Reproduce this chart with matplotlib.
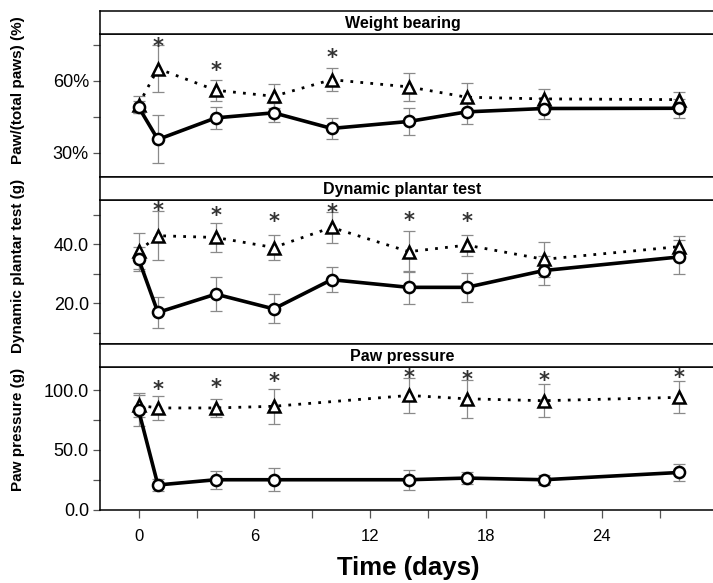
import numpy as np
import matplotlib
matplotlib.use("Agg")
import matplotlib.pyplot as plt
from matplotlib.ticker import FixedLocator, FuncFormatter

plt.rcParams['font.family'] = ['Liberation Sans', 'DejaVu Sans']

# ---- data ----
days = [0, 1, 4, 7, 10, 14, 17, 21, 28]
days_pp = [0, 1, 4, 7, 14, 17, 21, 28]   # paw pressure has no day 10

# Weight bearing (%)
wb_circle = [49.0, 35.5, 44.5, 46.6, 40.1, 43.0, 47.0, 48.4, 48.5]
wb_circle_err = [2.5, 10.0, 4.5, 4.0, 4.5, 5.5, 5.0, 4.3, 4.0]
wb_tri = [50.0, 65.0, 56.0, 53.5, 60.4, 57.4, 53.1, 52.4, 52.1]
wb_tri_err = [3.5, 9.8, 4.3, 5.0, 4.8, 5.7, 6.0, 4.0, 3.3]
wb_star_days = [1, 4, 10]
wb_star_y = [76.3, 66.5, 71.8]

# Dynamic plantar test (g)
dp_circle = [35.0, 16.9, 23.1, 18.1, 28.0, 25.4, 25.4, 31.1, 35.7]
dp_circle_err = [4.0, 5.2, 5.7, 4.9, 4.2, 5.6, 4.9, 5.0, 5.7]
dp_tri = [37.7, 42.9, 42.3, 38.9, 45.7, 37.5, 39.7, 34.9, 39.2]
dp_tri_err = [6.0, 8.3, 4.8, 4.2, 5.4, 6.9, 3.6, 6.0, 3.7]
dp_star_days = [1, 4, 7, 10, 14, 17]
dp_star_y = [53.1, 51.6, 49.6, 52.5, 49.9, 49.4]

# Paw pressure (g)
pp_circle = [83.3, 20.6, 25.0, 25.0, 25.0, 26.4, 25.0, 31.1]
pp_circle_err = [13.0, 5.0, 7.6, 9.5, 8.4, 5.2, 4.3, 7.5]
pp_tri = [87.5, 85.3, 85.3, 86.7, 95.8, 93.0, 91.4, 94.2]
pp_tri_err = [10.0, 9.7, 7.5, 14.5, 14.8, 16.0, 13.9, 13.4]
pp_star_days = [1, 4, 7, 14, 17, 21, 28]
pp_star_y = [105.6, 107.0, 111.7, 115.3, 113.9, 112.5, 115.3]

W, H = 713, 583
fig = plt.figure(figsize=(W / 100, H / 100), dpi=100)


def fx(px):
    return px / W


def fy(px):
    return 1 - px / H


LEFT, RIGHT = 100, 717.6

panels = [
    dict(title='Weight bearing', ylabel='Paw/(total paws) (%)', label_y=90,
         strip=(11, 34.3), plot=(34.3, 176.7), ylim=(20, 79.3),
         major=[30, 60], minor=[45, 75], fmt=lambda v, p: '%d%%' % v,
         x=days, c=wb_circle, ce=wb_circle_err, t=wb_tri, te=wb_tri_err,
         sd=wb_star_days, sy=wb_star_y),
    dict(title='Dynamic plantar test', ylabel='Dynamic plantar test (g)', label_y=266,
         strip=(176.7, 200), plot=(200, 344.3), ylim=(6.1, 55),
         major=[20, 40], minor=[10, 30, 50], fmt=lambda v, p: '%.1f' % v,
         x=days, c=dp_circle, ce=dp_circle_err, t=dp_tri, te=dp_tri_err,
         sd=dp_star_days, sy=dp_star_y),
    dict(title='Paw pressure', ylabel='Paw pressure (g)', label_y=429,
         strip=(344.3, 367), plot=(367, 509.5), ylim=(0, 119.7),
         major=[0, 50, 100], minor=[25, 75], fmt=lambda v, p: '%.1f' % v,
         x=days_pp, c=pp_circle, ce=pp_circle_err, t=pp_tri, te=pp_tri_err,
         sd=pp_star_days, sy=pp_star_y),
]

for i, p in enumerate(panels):
    top, bot = p['plot']
    ax = fig.add_axes([fx(LEFT), fy(bot), fx(RIGHT - LEFT), (bot - top) / H])
    s_top, s_bot = p['strip']
    sx = fig.add_axes([fx(LEFT), fy(s_bot), fx(RIGHT - LEFT), (s_bot - s_top) / H])

    # strip header
    sx.set_xticks([])
    sx.set_yticks([])
    for sp in sx.spines.values():
        sp.set_linewidth(1.1)
    sx.text(0.49, 0.45, p['title'], transform=sx.transAxes, ha='center',
            va='center', fontsize=11.5, fontweight='bold')

    ax.errorbar(p['x'], p['t'], yerr=p['te'], fmt='none', ecolor='#8a8a8a',
                elinewidth=0.9, capsize=4.5, capthick=0.9, zorder=2)
    ax.errorbar(p['x'], p['c'], yerr=p['ce'], fmt='none', ecolor='#8a8a8a',
                elinewidth=0.9, capsize=4.5, capthick=0.9, zorder=2)
    ax.plot(p['x'], p['t'], color='black', lw=2.0, linestyle=(0, (1, 2.6)),
            marker='^', ms=8.5, mfc='white', mec='black', mew=1.8, zorder=3)
    ax.plot(p['x'], p['c'], color='black', lw=2.6, linestyle='-',
            marker='o', ms=8, mfc='white', mec='black', mew=1.8, zorder=4)

    # significance stars, given by their centre; baseline sits ~8.5 pt lower
    for d, yv in zip(p['sd'], p['sy']):
        ax.annotate('*', (d, yv), xytext=(0, -8.5), textcoords='offset points',
                    ha='center', va='baseline', fontsize=15, fontweight='bold',
                    family='DejaVu Sans', color='#333333', zorder=5,
                    annotation_clip=False)

    ax.set_xlim(-2, 30)
    ax.set_ylim(*p['ylim'])
    ax.spines['right'].set_visible(False)
    for sp in ('left', 'bottom', 'top'):
        ax.spines[sp].set_linewidth(1.1)

    ax.yaxis.set_major_locator(FixedLocator(p['major']))
    ax.yaxis.set_minor_locator(FixedLocator(p['minor']))
    ax.yaxis.set_major_formatter(FuncFormatter(p['fmt']))
    ax.tick_params(axis='y', which='both', direction='out', length=5,
                   width=0.9, color='#555555', labelsize=13, pad=3)

    if i == 2:
        ax.xaxis.set_major_locator(FixedLocator([0, 6, 12, 18, 24]))
        ax.xaxis.set_minor_locator(FixedLocator([3, 9, 15, 21, 27]))
        ax.tick_params(axis='x', which='both', direction='out', length=6,
                       width=0.9, color='#555555', labelsize=12, pad=8)
    else:
        ax.set_xticks([])

    fig.text(fx(18), fy(p['label_y']), p['ylabel'], rotation=90, ha='center',
             va='center', fontsize=11, fontweight='bold')

fig.text(fx(408), fy(568), 'Time (days)', ha='center', va='center',
         fontsize=18.5, fontweight='bold')

fig.savefig('out.png', dpi=100)
